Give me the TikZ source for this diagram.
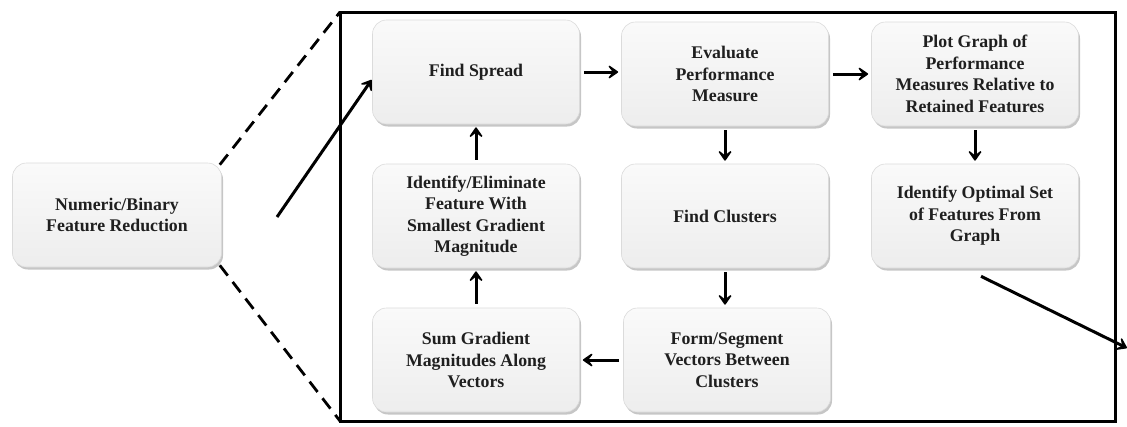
\documentclass[tikz,border=0pt]{standalone}
\usepackage{fontspec}
\setmainfont{Liberation Serif}
\usetikzlibrary{arrows.meta,shadows,calc}
\begin{document}
\begin{tikzpicture}[x=1pt,y=-1pt,
  box/.style={rectangle, rounded corners=14pt, minimum width=207pt, minimum height=104pt,
    align=center, top color=gray!4, middle color=gray!10, bottom color=gray!14, draw=gray!28, line width=0.6pt,
    drop shadow={opacity=0.45, shadow xshift=1.5pt, shadow yshift=-2.5pt},
    font=\fontsize{17.8}{21.5}\selectfont\bfseries, text=black!88, inner sep=2pt},
  arr/.style={line width=3pt, -{Stealth[length=13pt,width=18pt,inset=7pt,round]}, shorten <=4pt, shorten >=3pt},
  zoomline/.style={line width=2.8pt, dash pattern=on 13pt off 8pt}]
\useasboundingbox (0,0) rectangle (1127,426);
% frame
\coordinate (fTL) at (340,12);
\coordinate (fBR) at (1115,421);
\coordinate (fBL) at (340,421);
\draw[line width=3pt] (fTL) rectangle (fBR);
% nodes
\node[box, minimum width=209pt] (num) at (117,215) {Numeric/Binary\\Feature Reduction};
\node[box] (spread) at (476,72) {Find Spread};
\node[box] (eval) at (725,74) {Evaluate\\Performance\\Measure};
\node[box] (plot) at (975,74) {Plot Graph of\\Performance\\Measures Relative to\\Retained Features};
\node[box] (ident) at (476,216) {Identify/Eliminate\\Feature With\\Smallest Gradient\\Magnitude};
\node[box] (clus) at (725,216) {Find Clusters};
\node[box] (opt) at (975,216) {Identify Optimal Set\\of Features From\\Graph};
\node[box] (sum) at (476,360) {Sum Gradient\\Magnitudes Along\\Vectors};
\node[box] (form) at (727,360) {Form/Segment\\Vectors Between\\Clusters};
% dashed zoom lines
\draw[zoomline] ([xshift=-2pt,yshift=-2pt]num.north east) -- (fTL);
\draw[zoomline] ([xshift=-2pt,yshift=2pt]num.south east) -- (fBL);
% arrows
\coordinate (s) at (277,217);
\draw[arr, shorten <=0pt, shorten >=1pt] (s) -- ([yshift=-7pt]spread.west);
\draw[arr] (spread.east) -- (spread.east-|eval.west);
\draw[arr] (eval.east) -- (plot.west);
\draw[arr] (eval.south) -- (clus.north);
\draw[arr] (clus.south) -- (clus.south|-form.north);
\draw[arr] (form.west) -- (sum.east);
\draw[arr] (sum.north) -- (ident.south);
\draw[arr] (ident.north) -- (spread.south);
\draw[arr] (plot.south) -- (opt.north);
\coordinate (e) at (1127,348);
\draw[arr, shorten <=0pt, shorten >=0pt] ([xshift=6pt,yshift=-8pt]opt.south) -- (e);
\end{tikzpicture}
\end{document}
